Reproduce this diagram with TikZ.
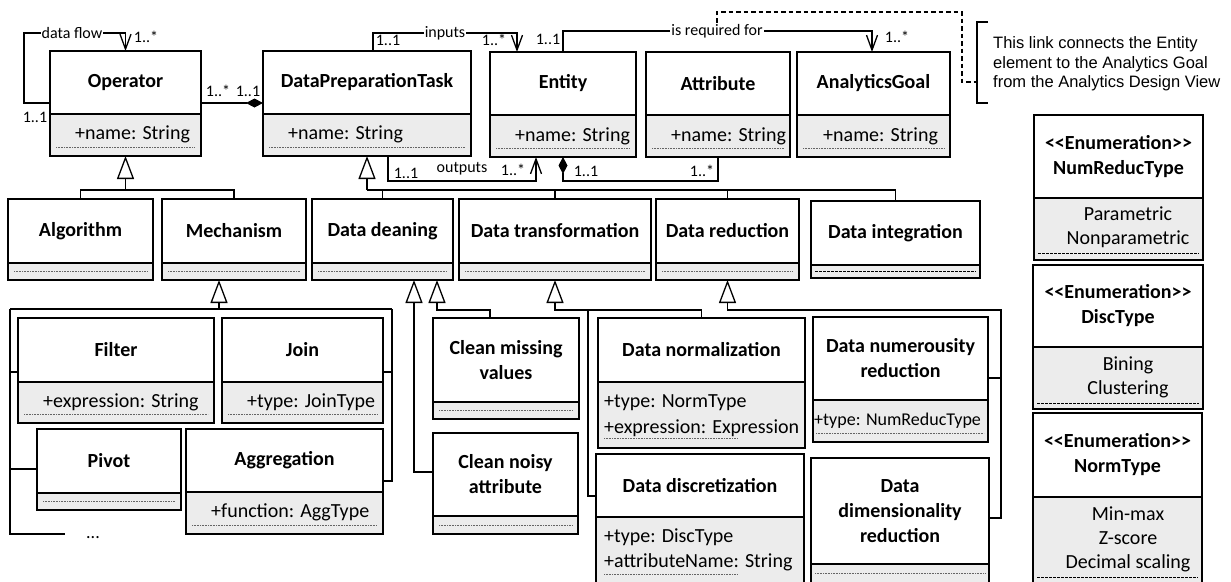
\documentclass[tikz,border=0pt]{standalone}
\usepackage{fontspec}
\setmainfont{Carlito}
\newfontfamily\notefont{Liberation Sans}
\usetikzlibrary{arrows.meta,calc}
\definecolor{cmpfill}{RGB}{236,236,236}
\definecolor{dotgray}{RGB}{100,100,100}
\tikzset{
 umlhead/.style={draw, line width=1.6pt, fill=white, inner sep=0pt, outer sep=0pt, align=center, font=\fontsize{20}{25}\selectfont\bfseries, anchor=north west},
 umlbody/.style={draw, line width=1.6pt, fill=cmpfill, inner sep=0pt, outer sep=0pt, anchor=north west},
 umlattr/.style={inner sep=0pt, anchor=base west, font=\fontsize{20}{25}\selectfont},
 umlval/.style={inner sep=0pt, align=center, font=\fontsize{20}{24}\selectfont},
 umllbl/.style={inner sep=1pt, font=\fontsize{16}{19}\selectfont},
 umlconn/.style={line width=1.3pt},
 umlgen/.style={umlconn, -{Triangle[open, length=23pt, width=17pt, line width=1.3pt]}},
 umlnav/.style={umlconn, -{Straight Barb[length=15pt, width=11pt, line width=1.3pt]}},
 umlcomp/.style={umlconn, -{Diamond[length=17pt, width=9pt]}},
 umldot/.style={line width=0.6pt, dotgray, dash pattern=on 0.8pt off 0.8pt},
 umldash/.style={line width=1pt, black, dash pattern=on 2.5pt off 1.5pt},
 notedash/.style={line width=1.2pt, dash pattern=on 4.5pt off 3pt},
}
\newcommand{\UMLclass}[7]{%
 \node[umlhead, minimum width=#4, minimum height=#5] (#1) at (#2,#3) {#7};
 \node[umlbody, minimum width=#4, minimum height=#6] (#1b) at (#1.south west) {};
}
\begin{document}
\begin{tikzpicture}[x=1pt,y=-1pt]
\useasboundingbox (0,0) rectangle (1231,581);
\clip (0,0) rectangle (1231,581);
% classes
\UMLclass{op}{50}{51}{151}{63}{42}{Operator}
\UMLclass{dpt}{263}{51}{208}{63}{42}{DataPreparationTask}
\UMLclass{ent}{490}{52}{146}{63}{42}{Entity}
\UMLclass{att}{646}{52}{144}{63}{42}{Attribute}
\UMLclass{ag}{797}{52}{153}{63}{42}{AnalyticsGoal}
\UMLclass{alg}{8}{199}{145}{64}{17}{Algorithm}
\UMLclass{mech}{162}{199}{144}{64}{17}{Mechanism}
\UMLclass{dcl}{312}{199}{141}{64}{17}{Data deaning}
\UMLclass{dtr}{459}{199}{192}{64}{17}{Data transformation}
\UMLclass{dred}{656}{199}{143}{64}{17}{Data reduction}
\UMLclass{dint}{811}{201}{169}{64}{13}{Data integration}
\UMLclass{filt}{18}{318}{196}{64}{41}{Filter}
\UMLclass{join}{222}{318}{161}{64}{41}{Join}
\UMLclass{piv}{37}{429}{144}{64}{17}{Pivot}
\UMLclass{agg}{186}{429}{197}{63}{42}{Aggregation}
\UMLclass{cmv}{433}{318}{146}{84}{17}{Clean missing\\values}
\UMLclass{cna}{433}{433}{145}{83}{18}{Clean noisy\\attribute}
\UMLclass{dnorm}{598}{318}{207}{64}{66}{Data normalization}
\UMLclass{ddisc}{596}{454}{208}{63}{67}{Data discretization}
\UMLclass{dnum}{813}{317}{175}{83}{42}{Data numerousity\\reduction}
\UMLclass{ddim}{811}{458}{178}{106}{22}{Data\\dimensionality\\reduction}
\UMLclass{nr}{1034}{115}{169}{83}{62}{<\kern0pt<Enumeration>\kern0pt>\\NumReducType}
\UMLclass{dt}{1033}{265}{170}{82}{62}{<\kern0pt<Enumeration>\kern0pt>\\DiscType}
\UMLclass{nt}{1033}{413}{169}{84}{88}{<\kern0pt<Enumeration>\kern0pt>\\NormType}
% attributes
\node[umlattr] (opx) at (75,139) {+name: String};
\node[umlattr] (dptx) at (288,139) {+name: String};
\node[umlattr] (entx) at (515,141) {+name: String};
\node[umlattr] (attx) at (671,141) {+name: String};
\node[umlattr] (agx) at (823,141) {+name: String};
\node[umlattr] (filtx) at (43,407) {+expression: String};
\node[umlattr] (joinx) at (247,407) {+type: JoinType};
\node[umlattr] (aggx) at (211,517) {+function: AggType};
\node[umlattr] (dnormx1) at (604,407) {+type: NormType};
\node[umlattr] (dnormx2) at (604,433) {+expression: Expression};
\node[umlattr] (ddiscx1) at (604,542) {+type: DiscType};
\node[umlattr] (ddiscx2) at (604,567) {+attributeName: String};
\node[umlattr, font=\fontsize{18}{22}\selectfont] (dnumx) at (814,425) {+type: NumReducType};
\node[umlval] (nrv) at (1128,227) {Parametric\\Nonparametric};
\node[umlval] (dtv) at (1128,377) {Bining\\Clustering};
\node[umlval] (ntv) at (1128,539) {Min-max\\Z-score\\Decimal scaling};
% dotted compartment lines
\foreach \c in {op,dpt,ent,att,ag,agg,filt,join}
  \draw[umldot] ([shift={(6,-9)}]\c b.south west) -- ([shift={(-6,-9)}]\c b.south east);
\foreach \c in {alg,mech,dcl,dtr,dred,piv,cmv,cna}
  \draw[umldot] ([shift={(6,-8.5)}]\c b.south west) -- ([shift={(-6,-8.5)}]\c b.south east);
\draw[umldash] ([shift={(4,-6.5)}]dintb.south west) -- ([shift={(-4,-6.5)}]dintb.south east);
\draw[umldot] ([shift={(6,-10)}]dnormb.south west) -- ([shift={(139,-10)}]dnormb.south west);
\draw[umldot] ([shift={(8,-10)}]ddiscb.south west) -- ([shift={(141,-10)}]ddiscb.south west);
\draw[umldot] ([shift={(3,-9)}]dnumb.south west) -- ([shift={(-4,-9)}]dnumb.south east);
\draw[umldot] ([shift={(4,9)}]ddimb.north west) -- ([shift={(-4,9)}]ddimb.north east);
\draw[umldash] ([shift={(4,-7)}]nrb.south west) -- ([shift={(-4,-7)}]nrb.south east);
\draw[umldash] ([shift={(4,-6)}]dtb.south west) -- ([shift={(-4,-6)}]dtb.south east);
\draw[umldash] ([shift={(4,80)}]ntb.north west) -- ([shift={(-4,80)}]ntb.north east);
% associations
\draw[umlnav] (op.west |- 0,103) -| (24,33) -| (op.north);
\draw[umlcomp] (op.east |- 0,103) -- (dpt.west |- 0,103);
\draw[umlnav] ($(dpt.north west)+(110,0)$) |- ($(ent.north west)+(27,-19)$) -- ($(ent.north west)+(27,0)$);
\draw[umlnav] ($(ent.north west)+(73,0)$) |- ($(ag.north west)+(75,-21)$) -- ($(ag.north west)+(75,0)$);
\draw[umlnav] ($(dptb.south west)+(125,0)$) |- ($(entb.south west)+(46,24)$) -- ($(entb.south west)+(46,0)$);
\draw[umlcomp] ($(attb.south west)+(72,0)$) |- ($(entb.south west)+(73,24)$) -- ($(entb.south west)+(73,0)$);
% generalizations
\draw[umlconn] (alg.north) |- (mech.north |- 0,190) -- (mech.north);
\draw[umlgen] (opb.south |- 0,190) -- (opb.south);
\draw[umlconn] (dptb.south |- 0,190) -- (dint.north |- 0,190) -- (dint.north);
\draw[umlgen] (dptb.south |- 0,190) -- (dptb.south);
\draw[umlconn] (dcl.north) -- (dcl.north |- 0,190);
\draw[umlconn] (dtr.north) -- (dtr.north |- 0,190);
\draw[umlconn] (dred.north) -- (dred.north |- 0,190);
\coordinate (mk) at (219,309);
\draw[umlgen] (mk) -- ($(mechb.south west)+(57,0)$);
\draw[umlconn] (10,309) -- (392,309);
\draw[umlconn] (10,309) -- (10,534) -- (65,534);
\draw[umlconn] (filt.west |- 0,372) -- (10,372);
\draw[umlconn] (piv.west |- 0,469) -- (10,469);
\draw[umlconn] (join.east |- 0,372) -- (392,372);
\draw[umlconn] (agg.east |- 0,481) -| (392,309);
\draw[umlgen] (cna.west |- 0,472) -| ($(dclb.south west)+(102,0)$);
\draw[umlgen] ($(cmv.north west)+(57,0)$) |- ($(dclb.south west)+(125,30)$) -- ($(dclb.south west)+(125,0)$);
\draw[umlgen] (dnorm.north) |- (dtrb.south |- 0,310) -- (dtrb.south);
\draw[umlconn] (ddisc.west |- 0,496) -| (588,310);
\draw[umlgen] (ddim.east |- 0,518) -| (1001,310) -| (dredb.south);
\draw[umlconn] (dnum.east |- 0,378) -- (1001,378);
% labels
\node[umllbl, fill=white] (dflow) at (72,33) {data flow};
\node[umllbl] (l1) at (146,37) {1..*};
\node[umllbl] (l2) at (35,117) {1..1};
\node[umllbl] (l3) at (218,91) {1..*};
\node[umllbl] (l4) at (248,91) {1..1};
\node[umllbl, fill=white] (inp) at (445,33) {inputs};
\node[umllbl] (l5) at (388,40) {1..1};
\node[umllbl] (l6) at (494,40) {1..*};
\node[umllbl, fill=white] (req) at (717,31) {is required for};
\node[umllbl] (l7) at (548,39) {1..1};
\node[umllbl] (l8) at (897,37) {1..*};
\node[umllbl] (outp) at (462,169) {outputs};
\node[umllbl] (l9) at (406,173) {1..1};
\node[umllbl] (l10) at (513,170) {1..*};
\node[umllbl] (l11) at (586,171) {1..1};
\node[umllbl] (l12) at (702,171) {1..*};
\node[umllbl, anchor=base, font=\fontsize{18}{20}\selectfont] (more) at (93,538) {...};
% note
\node[inner sep=0pt, anchor=west, align=left, font=\notefont\fontsize{16.5}{19.5}\selectfont] (note) at (993,64) {This link connects the Entity\\element to the Analytics Goal\\from the Analytics Design View};
\draw[line width=1.2pt] (988,22) -- (977,22) -- (977,103) -- (988,103);
\coordinate (nb) at (977,82);
\draw[notedash] (req.north) |- (962,12) |- (nb);
\end{tikzpicture}
\end{document}
